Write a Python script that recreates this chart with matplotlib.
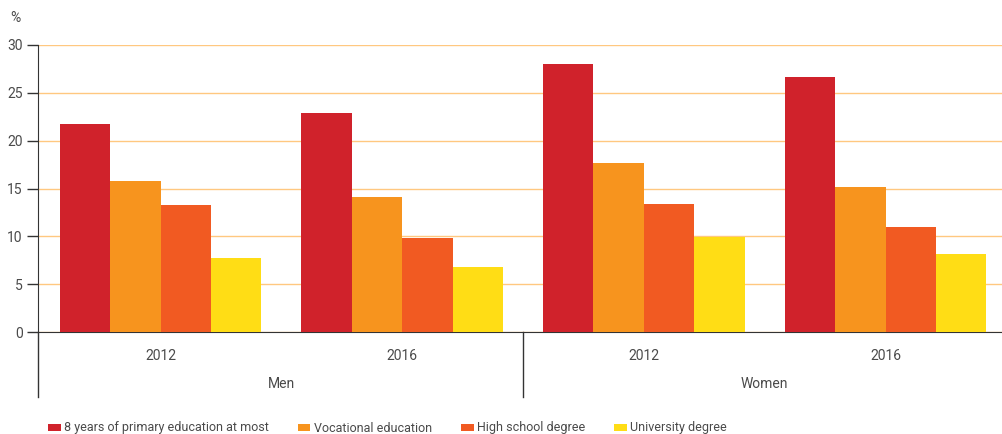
import matplotlib
matplotlib.use("Agg")
import matplotlib.pyplot as plt
from matplotlib.patches import Patch
import numpy as np

plt.rcParams['font.family'] = ['Roboto', 'DejaVu Sans']

groups = ["Men", "Women"]
years = ["2012", "2016", "2012", "2016"]
series = ["8 years of primary education at most", "Vocational education",
          "High school degree", "University degree"]
primary = [21.7, 22.9, 28.0, 26.7]
vocational = [15.8, 14.1, 17.7, 15.2]
highschool = [13.3, 9.8, 13.4, 11.0]
university = [7.7, 6.8, 9.9, 8.2]
values = [primary, vocational, highschool, university]
colors = ["#D0222B", "#F7941E", "#F15A22", "#FFDD15"]
yticks = [0, 5, 10, 15, 20, 25, 30]

TXT = "#4a4a4a"
FS = 10
fig = plt.figure(figsize=(10.02, 4.34), dpi=100)
ax = fig.add_axes([38/1002, 1-332/434, 964/1002, 287/434])
x = np.arange(len(years))
w = 0.834/4
for i, (vals, c) in enumerate(zip(values, colors)):
    ax.bar(x + (i-1.5)*w, vals, width=w, color=c, label=series[i], zorder=3)

x0 = -0.507
ax.set_xlim(x0, x0 + 964/241.67)
ax.set_ylim(0, 30)
ax.set_yticks(yticks)
ax.set_yticklabels([str(t) for t in yticks], fontsize=FS, color=TXT)
ax.yaxis.grid(True, color="#FFC880", lw=1, zorder=0)
for s in ["top", "right"]:
    ax.spines[s].set_visible(False)
ax.spines["bottom"].set_color("#333333")
ax.spines["left"].set_color("#333333")
ax.tick_params(axis="y", length=8, width=1, color="#333333", pad=3)
ax.tick_params(axis="x", length=0, pad=12)
ax.set_xticks(x)
ax.set_xticklabels(years, fontsize=FS, color=TXT)

tr = ax.get_xaxis_transform()
ext = -65/287
ax.plot([x0, x0], [0, ext], transform=tr, color="#333333", lw=1, clip_on=False)
ax.plot([1.5, 1.5], [0, ext], transform=tr, color="#333333", lw=1, clip_on=False)
for gi, g in enumerate(groups):
    ax.text(0.5 + 2*gi, -52/287, g, transform=tr, ha="center", va="center",
            fontsize=FS, color=TXT)

fig.text(10/1002, 1-18/434, "%", fontsize=FS, color=TXT, va="center", ha="left")

handles = [Patch(facecolor=c, edgecolor="none") for c in colors]
leg = fig.legend(handles, series, loc="center left", bbox_to_anchor=(48/1002, 1-428/434),
                 ncol=4, frameon=False, fontsize=9, handlelength=1.0, handleheight=0.5,
                 handletextpad=0.3, columnspacing=2.3, labelcolor=TXT, borderaxespad=0,
                 borderpad=0)

fig.savefig("out.png", dpi=100)
